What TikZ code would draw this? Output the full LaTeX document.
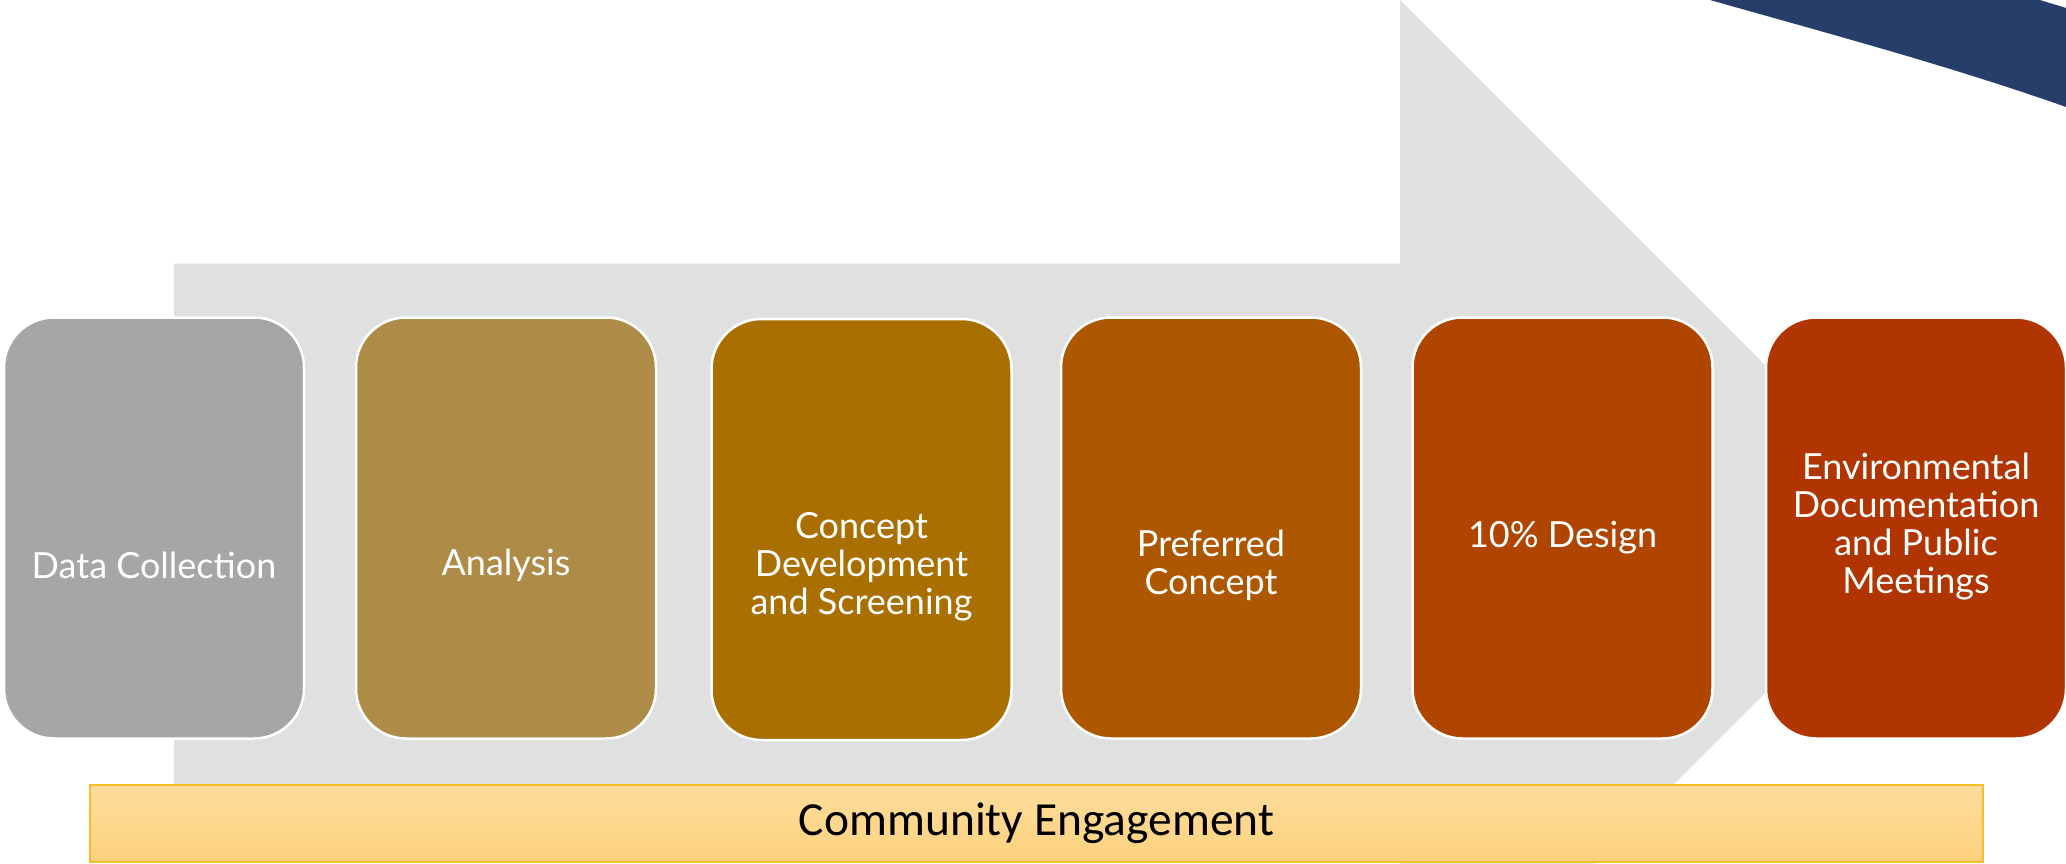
\documentclass[tikz,border=0pt]{standalone}
\usepackage{fontspec}
\setmainfont{Lato}
\newfontfamily\barfont{Carlito}
\definecolor{arrowgrey}{HTML}{E0E0E0}
\definecolor{navyarc}{HTML}{283E6A}
\definecolor{cA}{HTML}{A6A6A6}
\definecolor{cB}{HTML}{AE8B47}
\definecolor{cC}{HTML}{A96F00}
\definecolor{cD}{HTML}{AD5700}
\definecolor{cE}{HTML}{B04500}
\definecolor{cF}{HTML}{B13500}
\definecolor{barTop}{HTML}{FDDC9C}
\definecolor{barBot}{HTML}{FDD27E}
\definecolor{barLine}{HTML}{F7BE2A}
\tikzset{
  stagebox/.style={draw=white, line width=2.5pt, rounded corners=50pt,
    minimum width=300pt, minimum height=421pt, inner sep=0pt},
  stagetext/.style={text=white, align=center, font=\fontsize{36}{38}\selectfont, inner sep=0pt},
}
\begin{document}
\begin{tikzpicture}[x=1pt,y=-1pt]
\useasboundingbox (0,0) rectangle (2066,864);
\clip (0,0) rectangle (2066,864);
% big grey arrow
\fill[arrowgrey] (174,263.5) -- (1400,263.5) -- (1400,0) -- (1929,529)
  -- (1400,1058) -- (1400,794.5) -- (174,794.5) -- cycle;
% navy arc
\fill[navyarc] (1710,0) .. controls (1830,34) and (1950,66) .. (2066,107)
  -- (2066,8) .. controls (2057,5) and (2049,3) .. (2040,0) -- cycle;
% stage boxes
\node[stagebox, fill=cA] (b1) at (154,528) {};
\node[stagebox, fill=cB] (b2) at (506,528) {};
\node[stagebox, fill=cC] (b3) at (861.5,529.5) {};
\node[stagebox, fill=cD] (b4) at (1211,528) {};
\node[stagebox, fill=cE] (b5) at (1562.5,528) {};
\node[stagebox, fill=cF] (b6) at (1916,528) {};
% stage texts
\node[stagetext] (t1) at ([yshift=-37pt]b1.center) {Data Collection};
\node[stagetext] (t2) at ([yshift=-37pt]b2.center) {Analysis};
\node[stagetext] (t3) at ([yshift=-37pt]b3.center) {Concept\\Development\\and Screening};
\node[stagetext] (t4) at ([yshift=-37pt]b4.center) {Preferred\\Concept};
\node[stagetext] (t5) at ([yshift=-10pt]b5.center) {10\% Design};
\node[stagetext] (t6) at ([yshift=1pt]b6.center) {Environmental\\Documentation\\and Public\\Meetings};
% community engagement bar
\node[draw=barLine, line width=2pt, top color=barTop, bottom color=barBot,
  minimum width=1893pt, minimum height=77pt, inner sep=0pt,
  font=\barfont\fontsize{47.5}{52}\selectfont, text=black] (bar) at (1036.5,823) {Community Engagement};
\end{tikzpicture}
\end{document}
